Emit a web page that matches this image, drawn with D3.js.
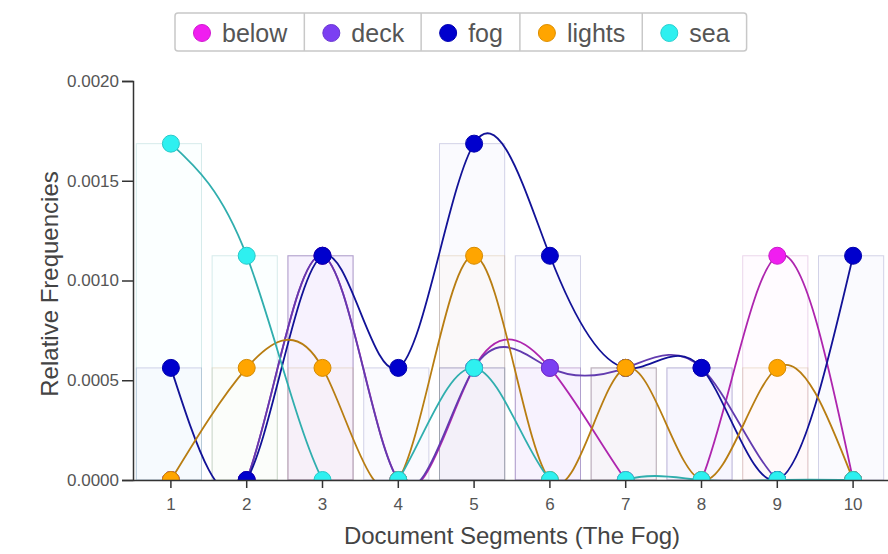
<!DOCTYPE html>
<html><head><meta charset="utf-8">
<script src="https://cdn.jsdelivr.net/npm/d3@7"></script>
<style>
body{margin:0;background:#fff}
svg{display:block}
text{font-family:"Liberation Sans",Arial,sans-serif}
</style>
</head><body>
<svg id="c" width="888" height="554"></svg>
<script>
// ---- data ----
const segments = [1,2,3,4,5,6,7,8,9,10];
const seriesNames = ["below","deck","fog","lights","sea"];
const seriesColors = ["#f01ef0","#7b3ff2","#0000cd","#ffa500","#2ef0f0"];
const below  = [0,0,0.001124,0,0.000562,0.000562,0,0,0.001124,0];
const deck   = [0,0,0.001124,0,0.000562,0.000562,0.000562,0.000562,0,0];
const fog    = [0.000562,0,0.001124,0.000562,0.001686,0.001124,0.000562,0.000562,0,0.001124];
const lights = [0,0.000562,0.000562,0,0.001124,0,0.000562,0,0.000562,0];
const sea    = [0.001686,0.001124,0,0,0.000562,0,0,0,0,0];
const yTicks = [0,0.0005,0.001,0.0015,0.002];
const xTitle = "Document Segments (The Fog)";
const yTitle = "Relative Frequencies";

(function(){
const seriesValues = [below, deck, fog, lights, sea];
const series = seriesNames.map((n,i)=>({name:n, color:seriesColors[i], values:seriesValues[i]}));

const svg = d3.select("#c");
const pL = 133, pR = 891, pT = 81, pB = 480;

const x = d3.scaleBand().domain(segments).range([pL, pR]).paddingInner(0.14).paddingOuter(0.07);
const cx = d => x(d) + x.bandwidth()/2;
const y = d3.scaleLinear().domain([0, 0.002]).range([pB, pT]);

svg.append("defs").append("clipPath").attr("id","clip")
  .append("rect").attr("x", pL).attr("y", 0).attr("width", 888-pL).attr("height", pB);

const plot = svg.append("g").attr("clip-path","url(#clip)");

// bars
series.forEach(s=>{
  plot.append("g").selectAll("rect")
    .data(segments.map((seg,i)=>({seg, v:s.values[i]})).filter(d=>d.v>0))
    .join("rect")
    .attr("x", d=>x(d.seg) - 2)
    .attr("width", x.bandwidth())
    .attr("y", d=>y(d.v))
    .attr("height", d=>y(0)-y(d.v))
    .attr("fill", s.color).attr("fill-opacity", 0.02)
    .attr("stroke", d3.interpolateRgb(s.color, "#999")(0.65)).attr("stroke-opacity", 0.28)
    .attr("stroke-width", 1);
});

const line = d3.line()
  .x((d,i)=>cx(segments[i]))
  .y(d=>y(d))
  .curve(d3.curveNatural);

series.forEach(s=>{
  const g = plot.append("g");
  g.append("path").datum(s.values)
    .attr("d", line)
    .attr("fill","none")
    .attr("stroke", d3.interpolateRgb(s.color, "#333")(0.35))
    .attr("stroke-width", 1.8);
  g.selectAll("circle").data(s.values).join("circle")
    .attr("cx", (d,i)=>cx(segments[i]))
    .attr("cy", d=>y(d))
    .attr("r", 8.5)
    .attr("fill", s.color)
    .attr("stroke", d3.color(s.color).darker(0.5))
    .attr("stroke-width", 1);
});

// axes
const yAxis = d3.axisLeft(y).tickValues(yTicks).tickFormat(d3.format(".4f")).tickSize(11).tickPadding(3);
const yg = svg.append("g").attr("transform",`translate(${pL},0)`).call(yAxis);
const xAxis = d3.axisBottom(x).tickSizeInner(8).tickSizeOuter(0).tickPadding(10);
const xg = svg.append("g").attr("transform",`translate(0,${pB})`).call(xAxis);
[yg,xg].forEach(g=>{
  g.selectAll("path,line").attr("stroke","#333").attr("stroke-width",1.5);
  g.selectAll("text").attr("fill","#555").style("font-size","17px").style("font-family",'"Liberation Sans",Arial,sans-serif');
});

svg.append("text").attr("x", 512).attr("y", 544).attr("text-anchor","middle")
  .attr("fill","#444").style("font-size","24px").text(xTitle);
svg.append("text").attr("transform","translate(58,284) rotate(-90)").attr("text-anchor","middle")
  .attr("fill","#444").style("font-size","24px").text(yTitle);

// legend
const lg = svg.append("g");
const boxTop = 13, boxH = 38;
let cur = 175;
const cells = [];
series.forEach(s=>{
  const t = lg.append("text").attr("y", 42).attr("fill","#555").style("font-size","25px").text(s.name);
  const w = t.node().getComputedTextLength();
  const x0 = cur;
  lg.append("circle").attr("cx", x0+27).attr("cy", 33).attr("r", 8.5)
    .attr("fill", s.color).attr("stroke", d3.color(s.color).darker(0.4)).attr("stroke-width",1);
  t.attr("x", x0+47);
  cur = x0 + 47 + w + 17;
  cells.push(cur);
});
lg.insert("rect", ":first-child").attr("x", 175).attr("y", boxTop).attr("width", cur-175).attr("height", boxH)
  .attr("rx", 3).attr("fill","#fff").attr("stroke","#c8c8c8").attr("stroke-width",1.5);
cells.slice(0,-1).forEach(cx0=>{
  lg.append("line").attr("x1", cx0).attr("x2", cx0).attr("y1", boxTop).attr("y2", boxTop+boxH)
    .attr("stroke","#c8c8c8").attr("stroke-width",1.5);
});
})();
</script>
</body></html>
